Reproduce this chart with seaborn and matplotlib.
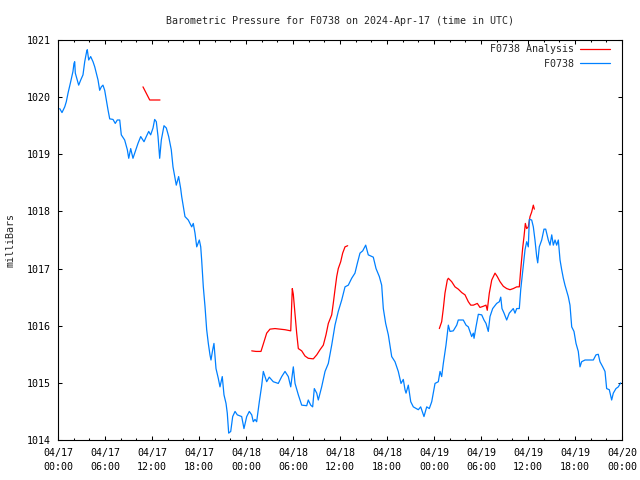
import numpy as np
import pandas as pd
import matplotlib
matplotlib.use("Agg")
import matplotlib.pyplot as plt
from matplotlib.ticker import MultipleLocator
import seaborn as sns

# ---- data (hours since 2024-04-17 00:00 UTC, pressure in mbar) ----
obs_hours = [0.22, 0.51, 0.86, 1.06, 1.28, 1.62, 1.91, 2.04, 2.13, 2.21, 2.46, 2.64, 2.90, 3.19,
             3.41, 3.66, 3.74, 3.92, 4.17, 4.47, 4.69, 4.89, 5.11, 5.32, 5.53, 5.74, 5.96, 6.17,
             6.38, 6.60, 7.02, 7.31, 7.57, 7.88, 8.08, 8.51, 8.85, 9.03, 9.28, 9.57, 9.87, 10.21,
             10.56, 10.98, 11.27, 11.58, 11.83, 12.13, 12.34, 12.55, 12.77, 12.98, 13.19, 13.53,
             13.83, 14.13, 14.46, 14.68, 14.90, 15.10, 15.40, 15.66, 15.79, 16.00, 16.21, 16.63,
             17.07, 17.27, 17.49, 17.71, 18.04, 18.22, 18.34, 18.55, 18.77, 18.98, 19.19, 19.40,
             19.53, 19.75, 19.91, 20.17, 20.46, 20.68, 20.97, 21.19, 21.45, 21.61, 21.79, 22.05,
             22.30, 22.60, 22.89, 23.45, 23.74, 24.09, 24.42, 24.73, 24.93, 25.15, 25.36, 25.70,
             26.00, 26.21, 26.64, 26.97, 27.48, 28.12, 28.56, 28.98, 29.40, 29.71, 30.04, 30.26,
             30.68, 31.11, 31.75, 31.95, 32.26, 32.51, 32.72, 33.03, 33.23, 33.66, 34.09, 34.51,
             34.94, 35.36, 35.78, 36.22, 36.64, 37.06, 37.49, 37.91, 38.21, 38.55, 38.90, 39.28,
             39.61, 40.25, 40.60, 41.02, 41.32, 41.53, 41.83, 42.17, 42.60, 43.02, 43.44, 43.79,
             44.08, 44.30, 44.43, 44.72, 45.03, 45.36, 46.00, 46.30, 46.72, 47.07, 47.40, 47.71,
             48.13, 48.55, 48.77, 48.98, 49.19, 49.53, 49.83, 50.04, 50.46, 50.90, 51.10, 51.74,
             52.09, 52.38, 52.81, 53.02, 53.11, 53.36, 53.66, 54.09, 54.38, 54.64, 54.93, 55.15,
             55.49, 56.00, 56.34, 56.52, 56.68, 56.94, 57.28, 57.61, 58.12, 58.34, 58.56, 58.89,
             59.07, 59.40, 59.62, 59.83, 60.04, 60.17, 60.47, 60.68, 60.89, 61.11, 61.24, 61.44,
             61.75, 62.04, 62.26, 62.59, 62.81, 63.03, 63.23, 63.45, 63.66, 63.87, 64.09, 64.30,
             64.51, 64.72, 65.14, 65.36, 65.58, 65.87, 66.13, 66.42, 66.64, 66.85, 67.28, 68.34,
             68.68, 68.97, 69.19, 69.54, 69.83, 70.04, 70.38, 70.68, 70.89, 71.23, 71.53, 71.83]
obs_mbar = [1019.80, 1019.73, 1019.83, 1019.92, 1020.07, 1020.27, 1020.45, 1020.59, 1020.62, 1020.42,
            1020.30, 1020.21, 1020.30, 1020.39, 1020.62, 1020.80, 1020.83, 1020.65, 1020.71, 1020.62,
            1020.53, 1020.42, 1020.30, 1020.12, 1020.18, 1020.21, 1020.12, 1019.95, 1019.78, 1019.62,
            1019.61, 1019.54, 1019.60, 1019.60, 1019.34, 1019.25, 1019.08, 1018.93, 1019.10, 1018.93,
            1019.05, 1019.19, 1019.31, 1019.22, 1019.31, 1019.40, 1019.34, 1019.46, 1019.61, 1019.57,
            1019.31, 1018.93, 1019.25, 1019.50, 1019.46, 1019.31, 1019.08, 1018.78, 1018.61, 1018.46,
            1018.61, 1018.40, 1018.26, 1018.08, 1017.91, 1017.85, 1017.73, 1017.79, 1017.62, 1017.38,
            1017.50, 1017.38, 1017.15, 1016.68, 1016.33, 1015.93, 1015.69, 1015.49, 1015.40, 1015.58,
            1015.69, 1015.25, 1015.08, 1014.93, 1015.11, 1014.79, 1014.64, 1014.47, 1014.12, 1014.15,
            1014.41, 1014.50, 1014.44, 1014.41, 1014.20, 1014.41, 1014.50, 1014.44, 1014.32, 1014.36,
            1014.32, 1014.67, 1014.95, 1015.20, 1015.02, 1015.10, 1015.02, 1014.99, 1015.11, 1015.20,
            1015.11, 1014.93, 1015.28, 1014.99, 1014.79, 1014.61, 1014.60, 1014.70, 1014.61, 1014.58,
            1014.90, 1014.82, 1014.70, 1014.93, 1015.20, 1015.34, 1015.66, 1016.01, 1016.25, 1016.45,
            1016.68, 1016.71, 1016.83, 1016.92, 1017.09, 1017.27, 1017.31, 1017.41, 1017.24, 1017.20,
            1017.00, 1016.86, 1016.71, 1016.30, 1016.04, 1015.84, 1015.46, 1015.37, 1015.20, 1014.99,
            1015.06, 1014.88, 1014.82, 1014.96, 1014.67, 1014.58, 1014.53, 1014.58, 1014.41, 1014.58,
            1014.55, 1014.67, 1014.99, 1015.02, 1015.20, 1015.11, 1015.34, 1015.66, 1016.01, 1015.90,
            1015.91, 1016.01, 1016.10, 1016.10, 1016.01, 1015.98, 1015.81, 1015.87, 1015.78, 1015.98,
            1016.20, 1016.19, 1016.10, 1016.04, 1015.90, 1016.16, 1016.30, 1016.39, 1016.42, 1016.50,
            1016.30, 1016.22, 1016.10, 1016.22, 1016.30, 1016.22, 1016.30, 1016.30, 1016.63, 1017.06,
            1017.33, 1017.47, 1017.38, 1017.86, 1017.85, 1017.73, 1017.50, 1017.21, 1017.10, 1017.38,
            1017.50, 1017.69, 1017.69, 1017.50, 1017.41, 1017.59, 1017.41, 1017.50, 1017.41, 1017.50,
            1017.15, 1016.98, 1016.83, 1016.71, 1016.51, 1016.36, 1015.98, 1015.90, 1015.69, 1015.55,
            1015.28, 1015.37, 1015.40, 1015.40, 1015.49, 1015.50, 1015.37, 1015.28, 1015.20, 1014.90,
            1014.88, 1014.70, 1014.82, 1014.90, 1014.93, 1015.00]

ana1_hours = [10.85, 11.71, 12.89, 13.02]
ana1_mbar = [1020.18, 1019.95, 1019.95, 1019.95]

ana2_hours = [24.73, 25.28, 25.91, 26.21, 26.64, 27.06, 27.70, 28.34, 28.98, 29.71, 29.91, 30.04,
              30.26, 30.47, 30.68, 31.11, 31.53, 31.95, 32.59, 33.03, 33.45, 33.87, 34.21, 34.51,
              34.94, 35.14, 35.36, 35.58, 35.78, 36.09, 36.34, 36.64, 36.98]
ana2_mbar = [1015.56, 1015.55, 1015.55, 1015.68, 1015.87, 1015.94, 1015.95, 1015.94, 1015.93, 1015.91,
             1016.65, 1016.55, 1016.20, 1015.87, 1015.60, 1015.56, 1015.47, 1015.43, 1015.42, 1015.49,
             1015.58, 1015.66, 1015.84, 1016.04, 1016.19, 1016.39, 1016.63, 1016.86, 1017.00, 1017.12,
             1017.27, 1017.38, 1017.40]

ana3_hours = [48.68, 48.98, 49.19, 49.40, 49.70, 49.83, 50.26, 50.68, 51.10, 51.54, 51.96, 52.38,
              52.69, 53.02, 53.53, 53.87, 54.29, 54.64, 54.80, 55.06, 55.37, 55.79, 56.08, 56.43,
              56.85, 57.28, 57.70, 58.12, 58.56, 58.89, 59.07, 59.32, 59.49, 59.66, 59.83, 60.04,
              60.26, 60.47, 60.68, 60.81]
ana3_mbar = [1015.95, 1016.07, 1016.30, 1016.57, 1016.80, 1016.83, 1016.77, 1016.68, 1016.64, 1016.58,
             1016.54, 1016.42, 1016.36, 1016.36, 1016.39, 1016.32, 1016.34, 1016.36, 1016.27, 1016.57,
             1016.80, 1016.92, 1016.86, 1016.77, 1016.69, 1016.65, 1016.63, 1016.65, 1016.68, 1016.68,
             1016.98, 1017.36, 1017.56, 1017.79, 1017.70, 1017.73, 1017.91, 1017.99, 1018.11, 1018.04]

x_tick_hours = [0, 6, 12, 18, 24, 30, 36, 42, 48, 54, 60, 66, 72]
x_tick_labels = ["04/17\n00:00", "04/17\n06:00", "04/17\n12:00", "04/17\n18:00",
                 "04/18\n00:00", "04/18\n06:00", "04/18\n12:00", "04/18\n18:00",
                 "04/19\n00:00", "04/19\n06:00", "04/19\n12:00", "04/19\n18:00",
                 "04/20\n00:00"]
y_ticks = [1014, 1015, 1016, 1017, 1018, 1019, 1020, 1021]

title = "Barometric Pressure for F0738 on 2024-Apr-17 (time in UTC)"
ylabel = "milliBars"
label_ana = "F0738 Analysis"
label_obs = "F0738"

# ---- build tables ----
obs_df = pd.DataFrame({"hours": obs_hours, "mbar": obs_mbar})
ana_df = pd.concat([
    pd.DataFrame({"hours": ana1_hours, "mbar": ana1_mbar, "seg": 1}),
    pd.DataFrame({"hours": ana2_hours, "mbar": ana2_mbar, "seg": 2}),
    pd.DataFrame({"hours": ana3_hours, "mbar": ana3_mbar, "seg": 3}),
], ignore_index=True)

FS = 7.2
sns.set_style("ticks")
plt.rcParams["font.family"] = ["DejaVu Sans Mono"]
plt.rcParams["font.size"] = FS

fig = plt.figure(figsize=(6.4, 4.8), dpi=100)
ax = fig.add_axes([58 / 640, 40 / 480, 564 / 640, 400 / 480])

sns.lineplot(data=ana_df, x="hours", y="mbar", units="seg", estimator=None,
             color="#ff0000", linewidth=0.9, ax=ax, label=label_ana)
sns.lineplot(data=obs_df, x="hours", y="mbar", color="#0080ff",
             linewidth=0.9, ax=ax, label=label_obs)

ax.set_xlim(0, 72)
ax.set_ylim(1014, 1021)
ax.set_xticks(x_tick_hours)
ax.set_xticklabels(x_tick_labels)
ax.xaxis.set_minor_locator(MultipleLocator(2))
ax.set_yticks(y_ticks)
ax.set_yticklabels([str(v) for v in y_ticks])
for t in ax.get_xticklabels():
    t.set_linespacing(1.5)

for s in ax.spines.values():
    s.set_visible(True)
    s.set_linewidth(0.8)
    s.set_color("black")

ax.tick_params(which="both", direction="in", top=True, right=True,
               width=0.75, color="black", labelsize=FS, labelcolor="black")
ax.tick_params(which="major", length=3.2)
ax.tick_params(which="minor", length=1.6)
ax.tick_params(axis="y", pad=5)
ax.tick_params(axis="x", pad=6)

ax.set_xlabel("")
ax.set_ylabel(ylabel, fontsize=FS)
ax.yaxis.set_label_coords(-(58 - 16) / 564, 0.5)
ax.set_title(title, fontsize=FS, pad=11.5)

handles, labels = ax.get_legend_handles_labels()
uniq = {}
for h, l in zip(handles, labels):
    if l not in uniq:
        uniq[l] = h
labels = list(uniq.keys())
handles = list(uniq.values())
width = max(len(l) for l in labels)
labels = [l.rjust(width) for l in labels]
ax.legend(handles, labels, loc="upper right", bbox_to_anchor=(1 - 8 / 564, 1),
          frameon=False, markerfirst=False, fontsize=FS, handlelength=3.0,
          handletextpad=0.5, labelspacing=0.45, borderaxespad=0.45, borderpad=0.0)

fig.savefig("out.png", dpi=100)
